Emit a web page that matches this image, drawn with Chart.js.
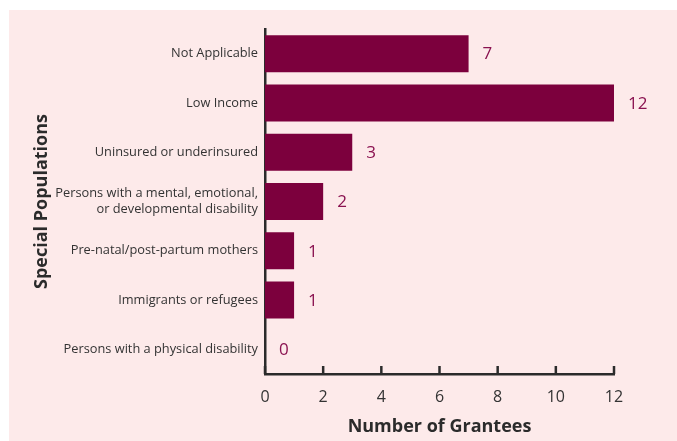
<!DOCTYPE html>
<html>
<head>
<meta charset="utf-8">
<script src="https://cdn.jsdelivr.net/npm/chart.js@4.4.1/dist/chart.umd.min.js"></script>
<style>
  html, body { margin: 0; padding: 0; background: #fff; }
</style>
</head>
<body>
<canvas id="grantees-chart" width="677" height="441"></canvas>
<script>
// --- Data ---
const categories = [
    'Not Applicable',
    'Low Income',
    'Uninsured or underinsured',
    ['Persons with a mental, emotional,', 'or developmental disability'],
    'Pre-natal/post-partum mothers',
    'Immigrants or refugees',
    'Persons with a physical disability'
];
const grantees = [7, 12, 3, 2, 1, 1, 0];
const xTicks = [0, 2, 4, 6, 8, 10, 12];

const BAR_COLOR = '#7c003d';
const LABEL_COLOR = '#8a1250';
const AXIS_COLOR = '#2b2b2b';
const TEXT_COLOR = '#333333';

Chart.defaults.font.family = '"Open Sans", sans-serif';

// pink panel behind the chart
const panelBackground = {
    id: 'panelBackground',
    beforeDraw(chart) {
        const ctx = chart.ctx;
        ctx.save();
        ctx.fillStyle = '#ffffff';
        ctx.fillRect(0, 0, chart.width, chart.height);
        ctx.fillStyle = '#fdeaea';
        ctx.fillRect(9, 10, chart.width - 9, chart.height - 10);
        ctx.restore();
    }
};

// short tick marks pointing up from the x axis
const innerTicks = {
    id: 'innerTicks',
    afterDraw(chart) {
        const x = chart.scales.x;
        const ctx = chart.ctx;
        const bottom = chart.chartArea.bottom;
        ctx.save();
        ctx.strokeStyle = AXIS_COLOR;
        ctx.lineWidth = 2.5;
        x.ticks.forEach(t => {
            const px = x.getPixelForValue(t.value);
            ctx.beginPath();
            ctx.moveTo(px, bottom);
            ctx.lineTo(px, bottom - 8);
            ctx.stroke();
        });
        ctx.restore();
    }
};

// value written just past the end of each bar
const valueLabels = {
    id: 'valueLabels',
    afterDatasetsDraw(chart) {
        const ctx = chart.ctx;
        const meta = chart.getDatasetMeta(0);
        ctx.save();
        ctx.fillStyle = LABEL_COLOR;
        ctx.font = '17px "Open Sans", sans-serif';
        ctx.textAlign = 'left';
        ctx.textBaseline = 'middle';
        meta.data.forEach((bar, i) => {
            ctx.fillText(String(grantees[i]), bar.x + 14, bar.y + 1);
        });
        ctx.restore();
    }
};

new Chart(document.getElementById('grantees-chart'), {
    type: 'bar',
    data: {
        labels: categories,
        datasets: [{
            data: grantees,
            backgroundColor: BAR_COLOR,
            borderWidth: 0,
            barPercentage: 0.75,
            categoryPercentage: 1
        }]
    },
    options: {
        indexAxis: 'y',
        responsive: false,
        animation: false,
        layout: {
            padding: { left: 0, top: 29, right: 63, bottom: 0 }
        },
        plugins: {
            legend: { display: false },
            tooltip: { enabled: false }
        },
        scales: {
            x: {
                min: 0,
                max: 12,
                afterBuildTicks: scale => {
                    scale.ticks = xTicks.map(v => ({ value: v }));
                },
                afterFit: scale => { scale.height = 67; },
                grid: { display: false, drawTicks: false },
                border: { display: true, color: AXIS_COLOR, width: 2.5 },
                ticks: {
                    color: TEXT_COLOR,
                    font: { size: 16 },
                    padding: 14
                },
                title: {
                    display: true,
                    text: 'Number of Grantees',
                    color: AXIS_COLOR,
                    font: { size: 18, weight: 'bold' },
                    padding: { top: 0, bottom: 3 }
                }
            },
            y: {
                afterFit: scale => { scale.width = 265; },
                grid: { display: false, drawTicks: false },
                border: { display: true, color: AXIS_COLOR, width: 2.5 },
                ticks: {
                    color: TEXT_COLOR,
                    font: { size: 12.8 },
                    padding: 7
                },
                title: {
                    display: true,
                    text: 'Special Populations',
                    color: AXIS_COLOR,
                    font: { size: 18, weight: 'bold' },
                    padding: { top: 31, bottom: 0 }
                }
            }
        }
    },
    plugins: [panelBackground, innerTicks, valueLabels]
});
</script>
</body>
</html>
